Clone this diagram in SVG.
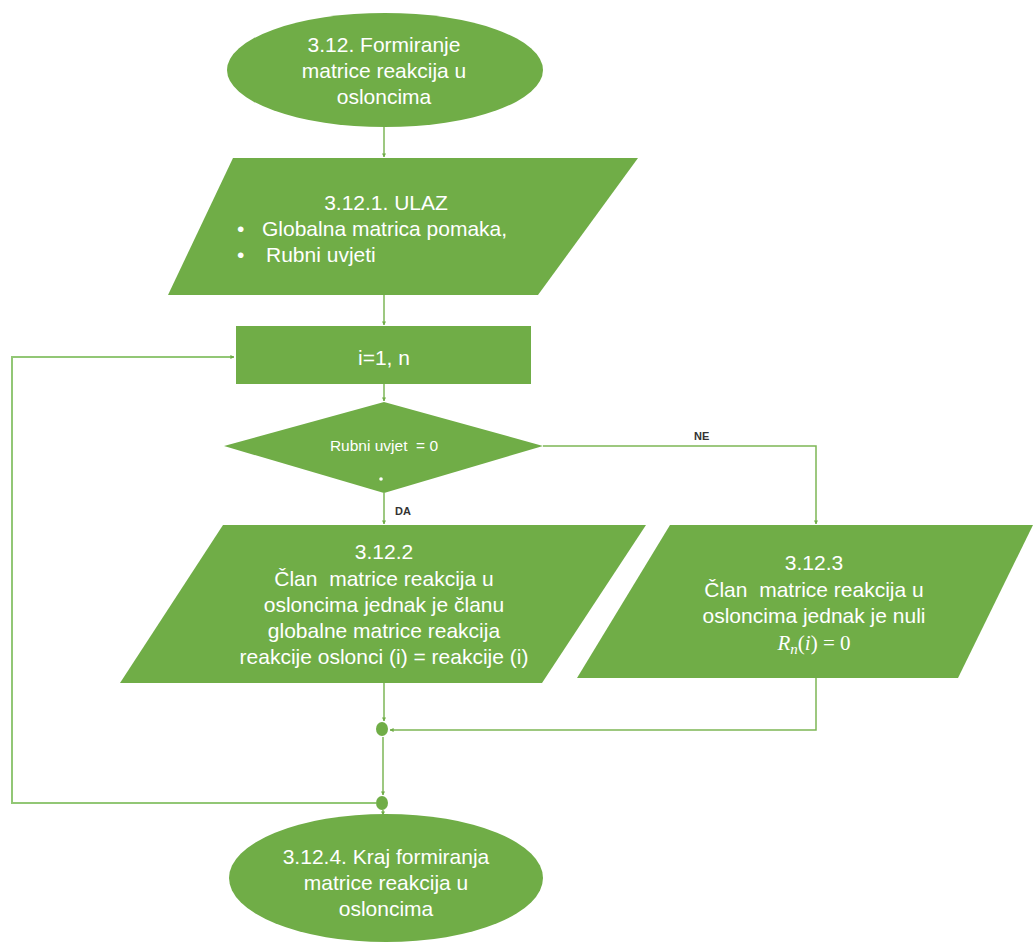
<svg xmlns="http://www.w3.org/2000/svg" width="1036" height="945" viewBox="0 0 1036 945">
<style>
text{white-space:pre;}
.shape{fill:#70AD47;}
.t{font-family:"Liberation Sans",Arial,sans-serif;font-size:21px;fill:#ffffff;text-anchor:middle;}
.tl{font-family:"Liberation Sans",Arial,sans-serif;font-size:21px;fill:#ffffff;}
.m{font-family:"Liberation Serif","Times New Roman",serif;font-size:21px;fill:#ffffff;text-anchor:middle;}
.lbl{font-family:"Liberation Sans",Arial,sans-serif;font-size:11px;font-weight:bold;fill:#333333;}
.c{fill:none;stroke:#7DB656;stroke-width:1.5;}
.loop{fill:none;stroke:#92C775;stroke-width:2;}
</style>
<defs>
<marker id="ah" viewBox="0 0 10 10" refX="9" refY="5" markerWidth="4" markerHeight="4" orient="auto" markerUnits="userSpaceOnUse">
<path d="M0,0 L10,5 L0,10 z" fill="#70AD47"/>
</marker>
</defs>
<g id="connectors">
<line class="c" x1="384" y1="127" x2="384" y2="157" marker-end="url(#ah)"/>
<line class="c" x1="384" y1="295" x2="384" y2="325" marker-end="url(#ah)"/>
<line class="c" x1="384" y1="384" x2="384" y2="401" marker-end="url(#ah)"/>
<line class="c" x1="384" y1="493" x2="384" y2="524" marker-end="url(#ah)"/>
<polyline class="c" points="543,446 816,446 816,524" marker-end="url(#ah)"/>
<line class="c" x1="384" y1="683" x2="384" y2="721" marker-end="url(#ah)"/>
<polyline class="c" points="816,678 816,730 390,730" marker-end="url(#ah)"/>
<line class="c" x1="383" y1="737" x2="383" y2="795" marker-end="url(#ah)"/>
<line class="c" x1="383" y1="810" x2="383" y2="815" marker-end="url(#ah)"/>
<polyline class="loop" points="376,803 12,803 12,357 234,357" marker-end="url(#ah)"/>
<text class="lbl" x="694" y="440">NE</text>
<text class="lbl" x="395" y="515">DA</text>
</g>
<g id="start">
<ellipse class="shape" cx="385" cy="70" rx="158" ry="57"/>
<text class="t" x="384" y="52">3.12. Formiranje</text>
<text class="t" x="384" y="78">matrice reakcija u</text>
<text class="t" x="384" y="104">osloncima</text>
</g>
<g id="input">
<polygon class="shape" points="233,158 638,158 538,295 168,295"/>
<text class="t" x="386" y="210">3.12.1. ULAZ</text>
<text class="tl" x="237" y="236">•</text>
<text class="tl" x="262" y="236">Globalna matrica pomaka,</text>
<text class="tl" x="237" y="262">•</text>
<text class="tl" x="266" y="262">Rubni uvjeti</text>
</g>
<g id="loop">
<rect class="shape" x="236" y="326" width="295" height="58"/>
<text class="t" x="384" y="365">i=1, n</text>
</g>
<g id="decision">
<polygon class="shape" points="384,402 543,446 384,493 224,446"/>
<text class="t" x="384" y="451" style="font-size:15.5px">Rubni uvjet  = 0</text>
<circle cx="381" cy="479" r="1.8" fill="#ffffff"/>
</g>
<g id="da">
<polygon class="shape" points="223,525 646,525 542,683 120,683"/>
<text class="t" x="384" y="559">3.12.2</text>
<text class="t" x="384" y="586">Član  matrice reakcija u</text>
<text class="t" x="384" y="612">osloncima jednak je članu</text>
<text class="t" x="384" y="638">globalne matrice reakcija</text>
<text class="t" x="384" y="664">reakcije oslonci (i) = reakcije (i)</text>
</g>
<g id="ne">
<polygon class="shape" points="670,525 1033,525 958,678 577,678"/>
<text class="t" x="814" y="570">3.12.3</text>
<text class="t" x="814" y="597">Član  matrice reakcija u</text>
<text class="t" x="814" y="623">osloncima jednak je nuli</text>
<text class="m" x="814" y="650"><tspan font-style="italic">R</tspan><tspan font-style="italic" font-size="15" dy="4">n</tspan><tspan dy="-4">(</tspan><tspan font-style="italic">i</tspan><tspan>) = 0</tspan></text>
</g>
<g id="join1">
<ellipse class="shape" cx="382" cy="729" rx="6" ry="7"/>
</g>
<g id="join2">
<ellipse class="shape" cx="382" cy="803" rx="6" ry="7"/>
</g>
<g id="end">
<ellipse class="shape" cx="386" cy="878" rx="157" ry="64"/>
<text class="t" x="386" y="864">3.12.4. Kraj formiranja</text>
<text class="t" x="386" y="890">matrice reakcija u</text>
<text class="t" x="386" y="916">osloncima</text>
</g>
</svg>
